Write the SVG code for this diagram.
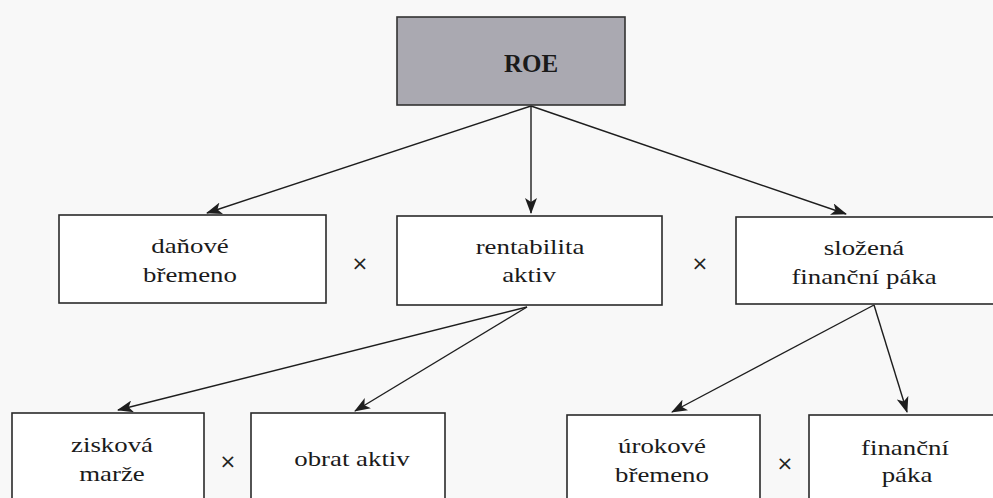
<svg xmlns="http://www.w3.org/2000/svg" width="993" height="498" viewBox="0 0 993 498">
<defs>
<style>
.box{fill:#ffffff;stroke:#2a2a2a;stroke-width:1.6}
.roe{fill:#aaa9b1;stroke:#333;stroke-width:1.6}
.t{font-family:"Liberation Serif","Times New Roman",serif;font-size:22px;fill:#1a1a1a;text-anchor:middle}
.b{font-weight:bold;font-size:25px}
.x{font-family:"DejaVu Sans",sans-serif;font-size:20px;fill:#222;text-anchor:middle}
.c{stroke:#1e1e1e;stroke-width:1.4;fill:none;marker-end:url(#ah)}
</style>
<marker id="ah" markerWidth="16" markerHeight="12" refX="15" refY="6" orient="auto" markerUnits="userSpaceOnUse">
<path d="M0,0 L16,6 L0,12 L4,6 z" fill="#1e1e1e"/>
</marker>
</defs>
<rect width="993" height="498" fill="#f8f8f8"/>
<g id="connectors">
<line class="c" x1="531" y1="106" x2="207" y2="213"/>
<line class="c" x1="531" y1="106" x2="531" y2="213"/>
<line class="c" x1="531" y1="106" x2="846" y2="214"/>
<line class="c" x1="527" y1="307" x2="118" y2="410"/>
<line class="c" x1="527" y1="307" x2="355" y2="411"/>
<line class="c" x1="874" y1="305" x2="672" y2="412"/>
<line class="c" x1="874" y1="305" x2="907" y2="412"/>
</g>
<g id="roe">
<rect class="roe" x="397" y="17" width="228" height="88"/>
<text class="t b" x="531" y="72">ROE</text>
</g>
<g id="danove-bremeno">
<rect class="box" x="59" y="215" width="267" height="88"/>
<text class="t" transform="translate(190 253) scale(1.22 1)">daňové</text>
<text class="t" transform="translate(190 282) scale(1.22 1)">břemeno</text>
</g>
<g id="rentabilita-aktiv">
<rect class="box" x="397" y="216" width="265" height="89"/>
<text class="t" transform="translate(530 254) scale(1.22 1)">rentabilita</text>
<text class="t" transform="translate(529 282) scale(1.22 1)">aktiv</text>
</g>
<g id="slozena-financni-paka">
<rect class="box" x="736" y="217" width="270" height="87"/>
<text class="t" transform="translate(864 255) scale(1.22 1)">složená</text>
<text class="t" transform="translate(864 284) scale(1.22 1)">finanční páka</text>
</g>
<g id="ziskova-marze">
<rect class="box" x="12" y="413" width="192" height="100"/>
<text class="t" transform="translate(112 452) scale(1.22 1)">zisková</text>
<text class="t" transform="translate(112 481) scale(1.22 1)">marže</text>
</g>
<g id="obrat-aktiv">
<rect class="box" x="251" y="413" width="194" height="100"/>
<text class="t" transform="translate(352 466) scale(1.22 1)">obrat aktiv</text>
</g>
<g id="urokove-bremeno">
<rect class="box" x="567" y="415" width="193" height="100"/>
<text class="t" transform="translate(662 453) scale(1.22 1)">úrokové</text>
<text class="t" transform="translate(662 482) scale(1.22 1)">břemeno</text>
</g>
<g id="financni-paka">
<rect class="box" x="809" y="415" width="200" height="100"/>
<text class="t" transform="translate(905 455) scale(1.22 1)">finanční</text>
<text class="t" transform="translate(907 482) scale(1.22 1)">páka</text>
</g>
<g id="operators">
<text class="x" x="360" y="270">×</text>
<text class="x" x="700" y="270">×</text>
<text class="x" x="228" y="468">×</text>
<text class="x" x="785" y="470">×</text>
</g>
</svg>
